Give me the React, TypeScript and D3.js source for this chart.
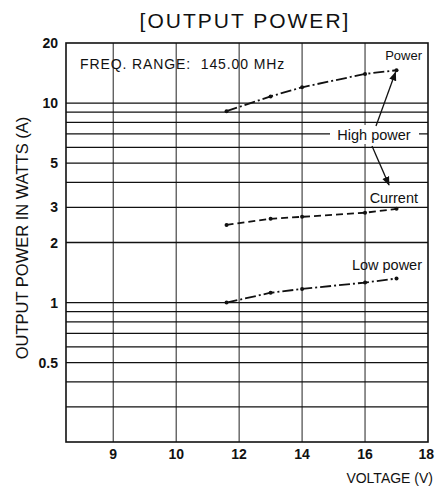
import * as d3 from "d3";

// voltage axis: ticks are not evenly valued, the chart spaces them by slot
const xStops = [8.25, 9, 10, 12, 14, 16, 18];
const xSlots = [0, 0.75, 1.75, 2.75, 3.75, 4.75, 5.75];
const xTicks = [9, 10, 12, 14, 16, 18];

const yTicks = [20, 10, 5, 3, 2, 1, 0.5];
const yGrid = [10, 9, 8, 7, 6, 5, 4, 3, 2, 1, 0.9, 0.8, 0.7, 0.6, 0.5, 0.4, 0.3];

// measured series
const voltage = [11.6, 13, 14, 16, 17];
const highPower = [9.1, 10.8, 12.0, 14.0, 14.6];
const highCurrent = [2.45, 2.63, 2.69, 2.82, 2.95];
const lowPower = [1.0, 1.12, 1.17, 1.26, 1.32];

const W = 435;
const H = 488;
const margin = { top: 43, right: 7, bottom: 46, left: 66 };
const FONT = "'Liberation Sans', Arial, sans-serif";

export default function App() {
  const left = margin.left;
  const right = W - margin.right;
  const top = margin.top;
  const bottom = H - margin.bottom;
  const unit = (right - left) / xSlots[xSlots.length - 1];

  const x = d3.scaleLinear()
    .domain(xStops)
    .range(xSlots.map(s => left + s * unit));

  const y = d3.scaleLog()
    .domain([0.2, 20])
    .range([bottom, top]);

  const line = d3.line<[number, number]>()
    .x(d => x(d[0]))
    .y(d => y(d[1]));

  const series = [
    { values: highPower, dash: "11,3,2,3" },
    { values: highCurrent, dash: "7,4" },
    { values: lowPower, dash: "11,3,2,3" },
  ];

  const endP: [number, number] = [x(voltage[4]), y(highPower[4])];

  return (
    <svg
      width={W}
      height={H}
      style={{ position: "absolute", left: 0, top: 0, background: "#fff" }}
      fontFamily={FONT}
    >
      <defs>
        <marker id="arrow" viewBox="0 0 10 10" refX="9" refY="5"
          markerWidth="7" markerHeight="7" orient="auto-start-reverse">
          <path d="M0,1 L10,5 L0,9 z" fill="#111" />
        </marker>
      </defs>

      {/* title */}
      <text x={245} y={28} textAnchor="middle" fontSize={21} letterSpacing={2} fill="#111">
        [OUTPUT POWER]
      </text>

      {/* vertical grid */}
      {xTicks.slice(0, -1).map(v => (
        <line key={"v" + v} x1={x(v)} x2={x(v)} y1={top} y2={bottom}
          stroke="#222" strokeWidth={1} />
      ))}

      {/* horizontal grid */}
      {yGrid.map(v => (
        <line key={"h" + v} x1={left} x2={right} y1={y(v)} y2={y(v)}
          stroke="#111" strokeWidth={1.3} />
      ))}

      {/* frame */}
      <rect x={left} y={top} width={right - left} height={bottom - top}
        fill="none" stroke="#111" strokeWidth={1.6} />

      {/* y tick labels */}
      {yTicks.map(v => (
        <text key={"yt" + v} x={left - 8} y={y(v) + 5} textAnchor="end"
          fontSize={14} fontWeight="bold" fill="#111">
          {v}
        </text>
      ))}

      {/* x tick labels */}
      {xTicks.map((v, i) => (
        <text key={"xt" + v} x={i === xTicks.length - 1 ? x(v) + 6 : x(v)} y={459}
          textAnchor={i === xTicks.length - 1 ? "end" : "middle"}
          fontSize={14} fontWeight="bold" fill="#111">
          {v}
        </text>
      ))}

      {/* axis titles */}
      <text x={433} y={483} textAnchor="end" fontSize={14} fill="#111">VOLTAGE (V)</text>
      <text transform={`translate(28,238) rotate(-90)`} textAnchor="middle"
        fontSize={16.5} fill="#111">
        OUTPUT POWER IN WATTS (A)
      </text>

      <text x={80} y={69} fontSize={14} letterSpacing={0.9} fill="#111" style={{ whiteSpace: "pre" }}>
        {"FREQ. RANGE:\u00a0\u00a0145.00 MHz"}
      </text>

      {/* series */}
      {series.map((s, i) => {
        const pts = voltage.map((v, j) => [v, s.values[j]] as [number, number]);
        return (
          <g key={"s" + i}>
            <path d={line(pts) || ""} fill="none" stroke="#111" strokeWidth={1.8}
              strokeDasharray={s.dash} />
            {pts.map((p, j) => (
              <circle key={j} cx={x(p[0])} cy={y(p[1])} r={2} fill="#111" />
            ))}
          </g>
        );
      })}

      {/* labels */}
      <text x={422} y={60} textAnchor="end" fontSize={13} fill="#111">Power</text>

      <rect x={330} y={125} width={89} height={19} fill="#fff" />
      <text x={374} y={140} textAnchor="middle" fontSize={14.5} fill="#111">High power</text>
      <line x1={376} y1={126} x2={endP[0] - 1} y2={endP[1] + 2}
        stroke="#111" strokeWidth={1.3} markerEnd="url(#arrow)" />
      <line x1={372} y1={146} x2={389} y2={185}
        stroke="#111" strokeWidth={1.3} markerEnd="url(#arrow)" />

      <text x={418} y={203} textAnchor="end" fontSize={14.5} fill="#111">Current</text>
      <text x={422} y={270} textAnchor="end" fontSize={14.5} fill="#111">Low power</text>
    </svg>
  );
}
